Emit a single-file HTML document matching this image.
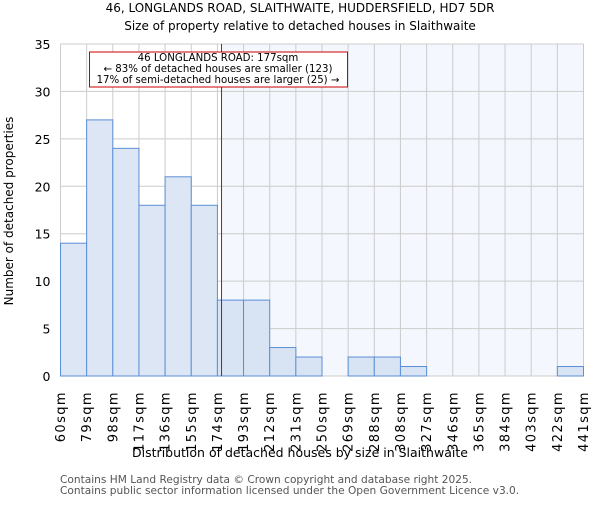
<!DOCTYPE html>
<html><head><meta charset="utf-8"><style>body{margin:0;background:#fff}svg{font-family:"DejaVu Sans","Liberation Sans",sans-serif}</style></head>
<body>
<svg id="c" width="600" height="500">
<text x="300" y="12" text-anchor="middle" font-size="12">46, LONGLANDS ROAD, SLAITHWAITE, HUDDERSFIELD, HD7 5DR</text>
<text x="300" y="30" text-anchor="middle" font-size="12">Size of property relative to detached houses in Slaithwaite</text>
<g id="plot"></g>
<text x="300" y="457" text-anchor="middle" font-size="12.5">Distribution of detached houses by size in Slaithwaite</text>
<text transform="translate(13,211) rotate(-90)" text-anchor="middle" font-size="12">Number of detached properties</text>
<text x="60" y="483" font-size="10.6" fill="#555">Contains HM Land Registry data © Crown copyright and database right 2025.</text>
<text x="60" y="494" font-size="10.6" fill="#555">Contains public sector information licensed under the Open Government Licence v3.0.</text>
</svg>
<script>
const edges=["60sqm","79sqm","98sqm","117sqm","136sqm","155sqm","174sqm","193sqm","212sqm","231sqm","250sqm","269sqm","288sqm","308sqm","327sqm","346sqm","365sqm","384sqm","403sqm","422sqm","441sqm"];
const counts=[14,27,24,18,21,18,8,8,3,2,0,2,2,1,0,0,0,0,0,1];
const yTicks=[0,5,10,15,20,25,30,35];
const markerIndex=6+3/19;
const NS="http://www.w3.org/2000/svg";
const g=document.getElementById('plot');
const L=60.5,R=583.5,T=44,B=376,yMax=35;
const n=counts.length,bw=(R-L)/n;
const x=i=>L+i*bw, y=v=>B-(v/yMax)*(B-T);
function mk(t,a,p){const e=document.createElementNS(NS,t);for(const k in a)e.setAttribute(k,a[k]);(p||g).appendChild(e);return e;}
const mx=x(markerIndex);
let e=mk('rect',{x:mx,y:T,width:R-mx,height:B-T,fill:'#f4f7fd'});


for(let i=0;i<=n;i++){e=mk('line',{x1:x(i),x2:x(i),y1:T,y2:B,stroke:'#ccc'});

}
yTicks.forEach(v=>{e=mk('line',{x1:L,x2:R,y1:y(v),y2:y(v),stroke:'#ccc'});


e=mk('text',{x:L-10,y:y(v)+5,'text-anchor':'end','font-size':12.5});e.textContent=v;

});
counts.forEach((c,i)=>{if(!c)return;e=mk('rect',{x:x(i),y:y(c),width:bw,height:B-y(c),fill:i>=6?'#d8e3f4':'#dce6f4',stroke:'#5b8fd6','stroke-width':1});

});
edges.forEach((l,i)=>{e=mk('text',{transform:`translate(${x(i)+4.5},391) rotate(-90)`,'text-anchor':'end','font-size':13,'letter-spacing':1.4});e.textContent=l;

});
e=mk('line',{x1:mx,x2:mx,y1:T,y2:B,stroke:'#dd0000','stroke-width':1});


const ag=mk('g',{});


mk('rect',{x:89.5,y:52,width:258,height:35,fill:'#fff',stroke:'#cc0000'},ag);
[["46 LONGLANDS ROAD: 177sqm",62],["← 83% of detached houses are smaller (123)",73],["17% of semi-detached houses are larger (25) →",84]].forEach(([t,yy])=>{const te=mk('text',{x:218,y:yy-1,'text-anchor':'middle','font-size':10.2},ag);te.textContent=t;});
</script>
</body></html>
